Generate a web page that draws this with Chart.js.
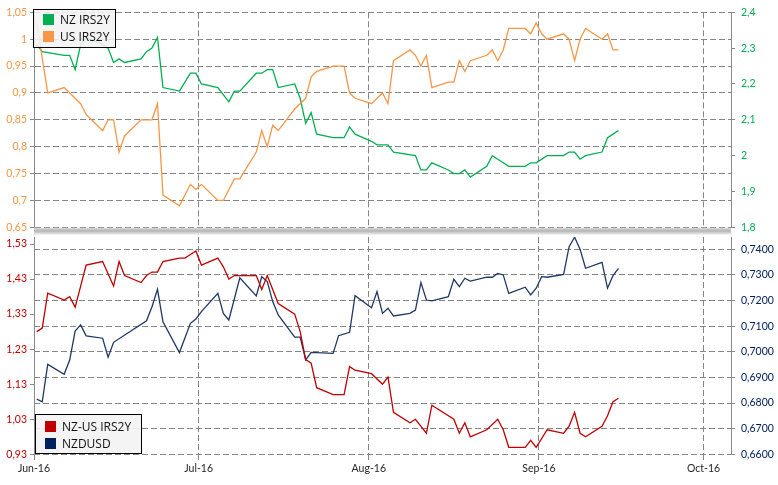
<!DOCTYPE html>
<html>
<head>
<meta charset="utf-8">
<script src="https://cdn.jsdelivr.net/npm/chart.js@4.4.0/dist/chart.umd.min.js"></script>
<style>
    body { margin: 0; background: #fff; }
    #wrap { position: relative; width: 778px; height: 485px; }
    #wrap canvas { position: absolute; left: 0; top: 0; }
    .legend { position: absolute; box-sizing: border-box; border: 1px solid #000; background: rgba(242, 242, 242, 0.88); font: 12px "Open Sans", sans-serif; color: #111; z-index: 2; }
    .legend .item { position: absolute; left: 9px; height: 14px; display: flex; align-items: center; white-space: nowrap; }
    .legend .sw { width: 11px; height: 11px; margin-right: 6px; }
</style>
</head>
<body>
<div id="wrap">
    <canvas id="bottomChart" width="778" height="485"></canvas>
    <canvas id="topChart" width="778" height="485"></canvas>
    <div class="legend" style="left:33px; top:9px; width:83px; height:39px;">
        <div class="item" style="top:2.5px;"><span class="sw" style="background:#00B050"></span>NZ IRS2Y</div>
        <div class="item" style="top:19.5px;"><span class="sw" style="background:#F79646"></span>US IRS2Y</div>
    </div>
    <div class="legend" style="left:35px; top:414px; width:107px; height:40px;">
        <div class="item" style="top:4px;"><span class="sw" style="background:#C00000"></span>NZ-US IRS2Y</div>
        <div class="item" style="top:21.5px;"><span class="sw" style="background:#002060"></span>NZDUSD</div>
    </div>
</div>
<script>
// x range and month ticks
const xStart = '2016-06-01';
const xEnd = '2016-10-06';
const monthTicks = ['2016-06-01', '2016-07-01', '2016-08-01', '2016-09-01', '2016-10-01'];
const monthLabels = ['Jun-16', 'Jul-16', 'Aug-16', 'Sep-16', 'Oct-16'];

// y tick values
const usTicks = [0.65, 0.7, 0.75, 0.8, 0.85, 0.9, 0.95, 1, 1.05];
const nzTicks = [1.8, 1.9, 2, 2.1, 2.2, 2.3, 2.4];
const spreadTicks = [0.93, 1.03, 1.13, 1.23, 1.33, 1.43, 1.53];
const fxTicks = [0.66, 0.67, 0.68, 0.69, 0.70, 0.71, 0.72, 0.73, 0.74];

const usIrs2y = [
    ['2016-06-01', 1.03], ['2016-06-03', 0.90], ['2016-06-06', 0.91], ['2016-06-08', 0.89], ['2016-06-09', 0.88],
    ['2016-06-10', 0.86], ['2016-06-13', 0.83], ['2016-06-14', 0.85], ['2016-06-15', 0.85], ['2016-06-16', 0.79],
    ['2016-06-17', 0.82], ['2016-06-20', 0.85], ['2016-06-22', 0.85], ['2016-06-23', 0.88], ['2016-06-24', 0.71],
    ['2016-06-27', 0.69], ['2016-06-29', 0.73], ['2016-06-30', 0.72], ['2016-07-01', 0.73], ['2016-07-04', 0.70],
    ['2016-07-05', 0.70], ['2016-07-07', 0.74], ['2016-07-08', 0.74], ['2016-07-11', 0.79], ['2016-07-12', 0.83],
    ['2016-07-13', 0.80], ['2016-07-14', 0.84], ['2016-07-15', 0.83], ['2016-07-18', 0.87], ['2016-07-20', 0.89],
    ['2016-07-21', 0.93], ['2016-07-22', 0.94], ['2016-07-25', 0.95], ['2016-07-27', 0.95], ['2016-07-28', 0.90],
    ['2016-07-29', 0.89], ['2016-08-01', 0.88], ['2016-08-03', 0.90], ['2016-08-04', 0.88], ['2016-08-05', 0.96],
    ['2016-08-08', 0.98], ['2016-08-09', 0.97], ['2016-08-10', 0.95], ['2016-08-11', 0.97], ['2016-08-12', 0.91],
    ['2016-08-15', 0.92], ['2016-08-16', 0.92], ['2016-08-17', 0.96], ['2016-08-18', 0.94], ['2016-08-19', 0.96],
    ['2016-08-22', 0.97], ['2016-08-23', 0.98], ['2016-08-24', 0.96], ['2016-08-25', 0.98], ['2016-08-26', 1.02],
    ['2016-08-29', 1.02], ['2016-08-30', 1.01], ['2016-08-31', 1.03], ['2016-09-01', 1.01], ['2016-09-02', 1.00],
    ['2016-09-05', 1.01], ['2016-09-06', 1.00], ['2016-09-07', 0.96], ['2016-09-08', 1.00], ['2016-09-09', 1.02],
    ['2016-09-12', 1.00], ['2016-09-13', 1.01], ['2016-09-14', 0.98], ['2016-09-15', 0.98]
];

const nzIrs2y = [
    ['2016-06-01', 2.31], ['2016-06-02', 2.29], ['2016-06-06', 2.28], ['2016-06-07', 2.28], ['2016-06-08', 2.24],
    ['2016-06-09', 2.31], ['2016-06-10', 2.33], ['2016-06-13', 2.31], ['2016-06-14', 2.30], ['2016-06-15', 2.26],
    ['2016-06-16', 2.27], ['2016-06-17', 2.26], ['2016-06-20', 2.27], ['2016-06-21', 2.29], ['2016-06-22', 2.30],
    ['2016-06-23', 2.33], ['2016-06-24', 2.19], ['2016-06-27', 2.18], ['2016-06-29', 2.23], ['2016-06-30', 2.23],
    ['2016-07-01', 2.20], ['2016-07-04', 2.19], ['2016-07-06', 2.15], ['2016-07-07', 2.18], ['2016-07-08', 2.18],
    ['2016-07-11', 2.23], ['2016-07-12', 2.23], ['2016-07-13', 2.24], ['2016-07-14', 2.24], ['2016-07-15', 2.19],
    ['2016-07-18', 2.20], ['2016-07-19', 2.16], ['2016-07-20', 2.09], ['2016-07-21', 2.12], ['2016-07-22', 2.06],
    ['2016-07-25', 2.05], ['2016-07-27', 2.05], ['2016-07-28', 2.08], ['2016-07-29', 2.06], ['2016-08-01', 2.04],
    ['2016-08-02', 2.03], ['2016-08-04', 2.03], ['2016-08-05', 2.01], ['2016-08-09', 2.00], ['2016-08-10', 1.96],
    ['2016-08-11', 1.96], ['2016-08-12', 1.98], ['2016-08-15', 1.96], ['2016-08-16', 1.95], ['2016-08-17', 1.95],
    ['2016-08-18', 1.96], ['2016-08-19', 1.94], ['2016-08-22', 1.97], ['2016-08-23', 2.00], ['2016-08-24', 1.99],
    ['2016-08-25', 1.98], ['2016-08-26', 1.97], ['2016-08-29', 1.97], ['2016-08-30', 1.98], ['2016-08-31', 1.98],
    ['2016-09-02', 2.00], ['2016-09-05', 2.00], ['2016-09-06', 2.01], ['2016-09-07', 2.01], ['2016-09-08', 1.99],
    ['2016-09-09', 2.00], ['2016-09-12', 2.01], ['2016-09-13', 2.05], ['2016-09-14', 2.06], ['2016-09-15', 2.07]
];

const nzUsSpread = [
    ['2016-06-01', 1.28], ['2016-06-02', 1.29], ['2016-06-03', 1.39], ['2016-06-06', 1.37], ['2016-06-07', 1.38],
    ['2016-06-08', 1.35], ['2016-06-09', 1.41], ['2016-06-10', 1.47], ['2016-06-13', 1.48], ['2016-06-15', 1.41],
    ['2016-06-16', 1.48], ['2016-06-17', 1.44], ['2016-06-20', 1.42], ['2016-06-21', 1.44], ['2016-06-22', 1.45],
    ['2016-06-23', 1.45], ['2016-06-24', 1.48], ['2016-06-27', 1.49], ['2016-06-28', 1.49], ['2016-06-29', 1.50],
    ['2016-06-30', 1.51], ['2016-07-01', 1.47], ['2016-07-04', 1.49], ['2016-07-05', 1.465], ['2016-07-06', 1.43],
    ['2016-07-07', 1.44], ['2016-07-11', 1.44], ['2016-07-12', 1.40], ['2016-07-13', 1.44], ['2016-07-15', 1.36],
    ['2016-07-18', 1.33], ['2016-07-19', 1.28], ['2016-07-20', 1.20], ['2016-07-21', 1.19], ['2016-07-22', 1.12],
    ['2016-07-25', 1.10], ['2016-07-27', 1.10], ['2016-07-28', 1.18], ['2016-07-29', 1.17], ['2016-08-01', 1.16],
    ['2016-08-03', 1.13], ['2016-08-04', 1.15], ['2016-08-05', 1.05], ['2016-08-08', 1.02], ['2016-08-09', 1.03],
    ['2016-08-11', 0.99], ['2016-08-12', 1.07], ['2016-08-16', 1.03], ['2016-08-17', 0.99], ['2016-08-18', 1.02],
    ['2016-08-19', 0.98], ['2016-08-22', 1.00], ['2016-08-24', 1.03], ['2016-08-25', 1.00], ['2016-08-26', 0.95],
    ['2016-08-29', 0.95], ['2016-08-30', 0.97], ['2016-08-31', 0.95], ['2016-09-02', 1.00], ['2016-09-05', 0.99],
    ['2016-09-06', 1.01], ['2016-09-07', 1.05], ['2016-09-08', 0.99], ['2016-09-09', 0.98], ['2016-09-12', 1.01],
    ['2016-09-13', 1.04], ['2016-09-14', 1.08], ['2016-09-15', 1.09]
];

const nzdUsd = [
    ['2016-06-01', 0.6815], ['2016-06-02', 0.6805], ['2016-06-03', 0.6951], ['2016-06-06', 0.6912], ['2016-06-07', 0.6968],
    ['2016-06-08', 0.7081], ['2016-06-09', 0.7105], ['2016-06-10', 0.7062], ['2016-06-13', 0.7053], ['2016-06-14', 0.6979],
    ['2016-06-15', 0.7037], ['2016-06-21', 0.7121], ['2016-06-22', 0.7176], ['2016-06-23', 0.7244], ['2016-06-24', 0.7117],
    ['2016-06-27', 0.6997], ['2016-06-29', 0.7111], ['2016-06-30', 0.7128], ['2016-07-01', 0.7157], ['2016-07-04', 0.7228],
    ['2016-07-05', 0.7150], ['2016-07-06', 0.7124], ['2016-07-08', 0.7289], ['2016-07-11', 0.7218], ['2016-07-12', 0.7293],
    ['2016-07-13', 0.7274], ['2016-07-14', 0.7196], ['2016-07-15', 0.7144], ['2016-07-18', 0.7057], ['2016-07-19', 0.7057],
    ['2016-07-20', 0.6968], ['2016-07-21', 0.6998], ['2016-07-25', 0.6994], ['2016-07-26', 0.7063], ['2016-07-28', 0.7076],
    ['2016-07-29', 0.7219], ['2016-08-01', 0.7172], ['2016-08-02', 0.7235], ['2016-08-03', 0.7150], ['2016-08-04', 0.7170],
    ['2016-08-05', 0.7140], ['2016-08-08', 0.7150], ['2016-08-09', 0.7163], ['2016-08-10', 0.7270], ['2016-08-11', 0.7202],
    ['2016-08-12', 0.7199], ['2016-08-15', 0.7215], ['2016-08-16', 0.7283], ['2016-08-17', 0.7254], ['2016-08-18', 0.7287],
    ['2016-08-19', 0.7276], ['2016-08-22', 0.7291], ['2016-08-23', 0.7291], ['2016-08-24', 0.7306], ['2016-08-25', 0.7300],
    ['2016-08-26', 0.7228], ['2016-08-29', 0.7252], ['2016-08-30', 0.7222], ['2016-08-31', 0.7248], ['2016-09-01', 0.7293],
    ['2016-09-02', 0.7291], ['2016-09-05', 0.7302], ['2016-09-06', 0.7410], ['2016-09-07', 0.7447], ['2016-09-08', 0.7400],
    ['2016-09-09', 0.7326], ['2016-09-12', 0.7349], ['2016-09-13', 0.7248], ['2016-09-14', 0.7297], ['2016-09-15', 0.7326]
];

Chart.defaults.font.family = 'Lato, sans-serif';
Chart.defaults.font.size = 10.5;

const gridGray = '#858585';
const axisGray = '#8a8a8a';
const gridDash = [6, 3];

function dayOf(d) {
    return (Date.parse(d) - Date.parse(xStart)) / 86400000;
}

// points sit in the middle of their day, like a date axis
function toPoints(rows) {
    return rows.map(([d, v]) => ({ x: dayOf(d) + 0.5, y: v }));
}

function comma(v, digits) {
    const s = digits == null ? String(+v.toFixed(2)) : v.toFixed(digits);
    return s.replace('.', ',');
}

function lineSet(label, rows, axis, color) {
    return {
        label: label,
        data: toPoints(rows),
        yAxisID: axis,
        borderColor: color,
        backgroundColor: color,
        borderWidth: 1.3,
        pointRadius: 0,
        tension: 0
    };
}

function xScale(showLabels) {
    return {
        type: 'linear',
        min: 0,
        max: dayOf(xEnd),
        afterBuildTicks: s => { s.ticks = monthTicks.map(d => ({ value: dayOf(d) })); },
        afterFit: s => { s.height = showLabels ? 30.7 : 0; },
        ticks: {
            display: showLabels,
            autoSkip: false,
            maxRotation: 0,
            padding: 1,
            color: '#262626',
            callback: (v, i) => monthLabels[i]
        },
        grid: {
            color: c => (c.tick && c.tick.value === 0 ? 'rgba(0,0,0,0)' : gridGray),
            drawTicks: showLabels,
            tickLength: 7,
            tickColor: gridGray,
            tickBorderDash: gridDash
        },
        border: { display: false, dash: gridDash }
    };
}

function yScale(pos, min, max, ticks, color, onArea, fmt) {
    return {
        position: pos,
        min: min,
        max: max,
        afterBuildTicks: s => { s.ticks = ticks.map(v => ({ value: v })); },
        afterFit: s => { s.width = pos === 'left' ? 34 : 47; },
        ticks: { color: color, padding: pos === 'left' ? 3 : 6, callback: fmt },
        grid: {
            drawOnChartArea: onArea,
            color: gridGray,
            tickLength: 4,
            tickColor: axisGray,
            tickBorderDash: []
        },
        border: { display: true, color: axisGray, width: 1, dash: gridDash }
    };
}

// grey shaded separator under the upper panel
const separator = {
    id: 'separator',
    afterDraw(chart) {
        const { ctx, chartArea: a } = chart;
        const g = ctx.createLinearGradient(0, a.bottom + 0.5, 0, a.bottom + 7.5);
        g.addColorStop(0, '#dcdcdc');
        g.addColorStop(0.45, '#b4b4b4');
        g.addColorStop(1, '#f2f2f2');
        ctx.save();
        ctx.fillStyle = g;
        ctx.fillRect(a.left, a.bottom + 0.5, a.right - a.left, 7);
        ctx.restore();
    }
};

new Chart(document.getElementById('topChart'), {
    type: 'line',
    data: {
        datasets: [
            lineSet('US IRS2Y', usIrs2y, 'yUs', '#F79646'),
            lineSet('NZ IRS2Y', nzIrs2y, 'yNz', '#00B050')
        ]
    },
    options: {
        responsive: false,
        animation: false,
        layout: { autoPadding: false, padding: { top: 9.3, bottom: 257.7, left: 0, right: 0 } },
        plugins: { legend: { display: false }, tooltip: { enabled: false } },
        scales: {
            x: xScale(false),
            yUs: yScale('left', 0.65, 1.05, usTicks, '#F79646', true, v => comma(v)),
            yNz: yScale('right', 1.8, 2.4, nzTicks, '#00B050', false, v => comma(v))
        }
    },
    plugins: [separator]
});

new Chart(document.getElementById('bottomChart'), {
    type: 'line',
    data: {
        datasets: [
            lineSet('NZ-US IRS2Y', nzUsSpread, 'ySpread', '#C00000'),
            lineSet('NZDUSD', nzdUsd, 'yFx', '#1F3864')
        ]
    },
    options: {
        responsive: false,
        animation: false,
        layout: { autoPadding: false, padding: { top: 237, bottom: 0, left: 0, right: 0 } },
        plugins: { legend: { display: false }, tooltip: { enabled: false } },
        scales: {
            x: xScale(true),
            ySpread: yScale('left', 0.93, 1.55, spreadTicks, '#C00000', false, v => comma(v, 2)),
            yFx: yScale('right', 0.66, 0.7448, fxTicks, '#002060', true, v => comma(v, 4))
        }
    }
});
</script>
</body>
</html>
